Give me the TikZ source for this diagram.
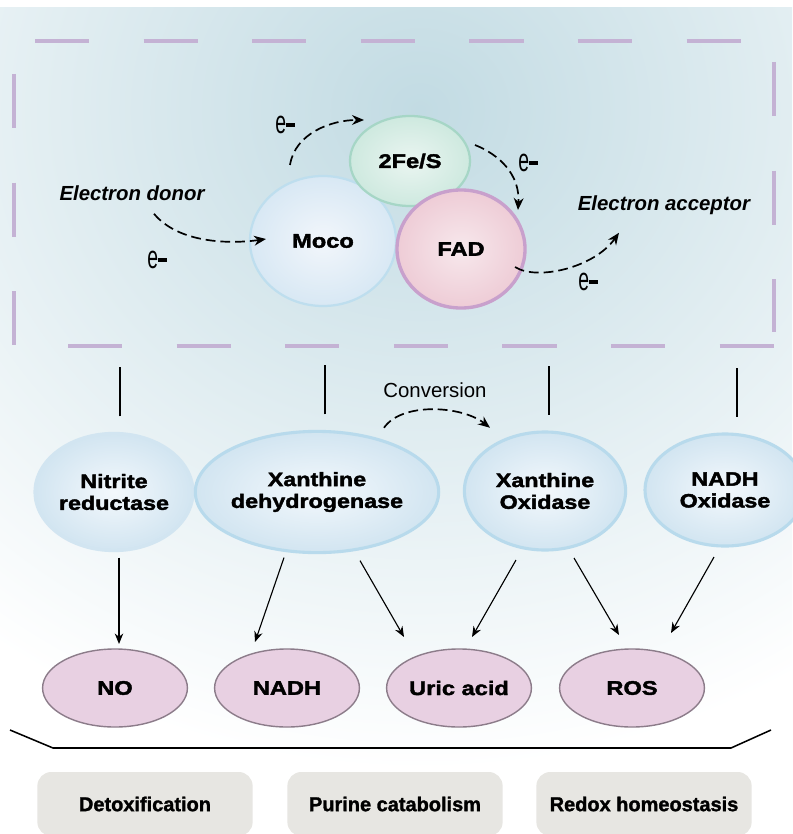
\documentclass[tikz,border=0pt]{standalone}
\usepackage{fontspec}
\setmainfont{Liberation Sans}
\newfontfamily\narrowfont{Liberation Sans}[FakeStretch=0.6]
\newfontfamily\heavyfont{Liberation Sans Bold}[FakeStretch=1.2, FakeBold=2]
\newfontfamily\blackfont{Liberation Sans Bold}[FakeBold=1.5]
\usetikzlibrary{arrows.meta,calc,shapes.geometric}

\definecolor{bgblue}{RGB}{194,219,227}
\definecolor{framelilac}{RGB}{196,178,212}
\definecolor{mocoin}{RGB}{242,246,251}
\definecolor{mocoout}{RGB}{216,232,244}
\definecolor{mocoline}{RGB}{190,222,238}
\definecolor{fesin}{RGB}{234,245,241}
\definecolor{fesout}{RGB}{206,233,223}
\definecolor{fesline}{RGB}{166,214,198}
\definecolor{fadin}{RGB}{247,232,236}
\definecolor{fadout}{RGB}{238,204,214}
\definecolor{fadline}{RGB}{200,160,204}
\definecolor{enzin}{RGB}{243,248,252}
\definecolor{enzout}{RGB}{210,229,241}
\definecolor{enzline}{RGB}{184,218,236}
\definecolor{prodfill}{RGB}{232,208,226}
\definecolor{prodline}{RGB}{140,124,138}
\definecolor{rolefill}{RGB}{231,230,226}

\newcommand\elec{{\narrowfont\fontsize{23}{23}\selectfont e}\rule[4.5pt]{6pt}{3pt}}

\tikzset{
  cofactor/.style={ellipse, draw, line width=1.6pt, inner sep=0pt, outer sep=0pt,
    font=\heavyfont\fontsize{14}{16}\selectfont},
  enzyme/.style={ellipse, draw=enzline, line width=2.2pt, inner color=enzin, outer color=enzout,
    inner sep=0pt, outer sep=0pt, align=center, font=\heavyfont\fontsize{13.8}{15.5}\selectfont},
  product/.style={ellipse, draw=prodline, fill=prodfill, line width=1pt, minimum width=3.62cm,
    minimum height=1.95cm, inner sep=0pt, outer sep=0pt, font=\heavyfont\fontsize{14}{16}\selectfont},
  role/.style={rectangle, rounded corners=0.35cm, fill=rolefill, minimum width=5.38cm,
    minimum height=1.6cm, font=\blackfont\fontsize{14.2}{17}\selectfont},
  flow/.style={-{Stealth[length=8.5pt,width=7pt]}, line width=1.2pt, dash pattern=on 7pt off 3.5pt},
  yields/.style={-{Stealth[length=7.5pt,width=6pt]}, line width=0.8pt},
  link/.style={line width=0.8pt},
  side/.style={inner sep=0pt, font=\bfseries\itshape\fontsize{14.5}{17}\selectfont},
  elab/.style={inner sep=0pt},
  frameline/.style={framelilac, line width=2.4pt, dash pattern=on 1.357cm off 1.357cm}
}

\begin{document}
\begin{tikzpicture}[x=0.025cm, y=-0.025cm]
	\useasboundingbox (0,0) rectangle (792,834);
	
	% background
	\fill[white] (0,0) rectangle (792,834);
	\begin{scope}
		\clip (0,8) rectangle (792,834);
		\shade[inner color=bgblue, outer color=white] (420,110) ellipse (720 and 660);
	\end{scope}
	
	% dashed frame
	\draw[frameline] (35,41) -- (741,41);
	\draw[frameline] (14,74) -- (14,346);
	\draw[frameline] (68,346) -- (774,346);
	\draw[frameline] (774,62) -- (774,332);
	
	% cofactors
	\node[cofactor, minimum width=3.65cm, minimum height=3.25cm, draw=mocoline,
		inner color=mocoin, outer color=mocoout] (moco) at (323,241) {Moco};
	\node[cofactor, minimum width=3.0cm, minimum height=2.25cm, draw=fesline,
		inner color=fesin, outer color=fesout] (fes) at (410,161) {2Fe/S};
	\node[cofactor, minimum width=3.2cm, minimum height=2.95cm, draw=fadline, line width=2.4pt,
		inner color=fadin, outer color=fadout] (fad) at (461,249) {FAD};
	
	\node[side] (donor) at (132,193) {Electron donor};
	\node[side] (acceptor) at (664,205) {Electron acceptor};
	
	\node[elab] (e1) at (157,260) {\elec};
	\node[elab] (e2) at (285,125) {\elec};
	\node[elab] (e3) at (528,163) {\elec};
	\node[elab] (e4) at (588,282) {\elec};
	
	\draw[flow] ($(donor.south)+(22,13)$) .. controls +(25,30) and +(-35,5) .. ($(moco.west)+(16,-2)$);
	\draw[flow] ($(moco.north)+(-33,-11)$) .. controls +(5,-32) and +(-32,0) .. ($(fes.north)+(-46,4)$);
	\draw[flow] ($(fes.east)+(5,-16)$) .. controls +(25,10) and +(2,-35) .. ($(fad.north)+(57,20)$);
	\draw[flow] ($(fad.east)+(-10,18)$) .. controls +(22,14) and +(-25,35) .. ($(acceptor.south)+(-45,18)$);
	
	% enzymes
	\node[enzyme, minimum width=3.95cm, minimum height=2.93cm, draw=enzout] (nitrite) at (114,492) {Nitrite\\reductase};
	\node[enzyme, minimum width=5.35cm, minimum height=3.03cm] (xdh) at (317,492) {Xanthine\\dehydrogenase};
	\node[enzyme, minimum width=4.03cm, minimum height=2.95cm] (xo) at (545,491) {Xanthine\\Oxidase};
	\node[enzyme, minimum width=4.0cm, minimum height=2.8cm] (nox) at (725,490) {NADH\\Oxidase};
	
	\draw[link] ($(nitrite.north)+(6,-17)$) -- ++(0,-49);
	\draw[link] ($(xdh.north)+(8,-17)$) -- ++(0,-49);
	\draw[link] ($(xo.north)+(4,-17)$) -- ++(0,-49);
	\draw[link] ($(nox.north)+(12,-17)$) -- ++(0,-49);
	
	\node[inner sep=0pt, font=\fontsize{14.5}{17}\selectfont] (conv) at (435,390) {Conversion};
	\draw[flow] ($(conv.south)+(-51,30)$) .. controls +(18,-26) and +(-28,-22) .. ($(conv.south)+(55,30)$);
	
	% products
	\node[product] (no) at (115,688) {NO};
	\node[product] (nadh) at (287,688) {NADH};
	\node[product] (uric) at (459,688) {Uric acid};
	\node[product] (ros) at (632,688) {ROS};
	
	\draw[yields] ($(nitrite.south)+(5,7)$) -- ($(no.north)+(4,-5)$);
	\draw[yields] ($(xdh.south)+(-33,5)$) -- ($(nadh.north)+(-32,-7)$);
	\draw[yields] ($(xdh.south)+(43,8)$) -- ($(uric.north)+(-55,-12)$);
	\draw[yields] ($(xo.south)+(-29,10)$) -- ($(uric.north)+(13,-12)$);
	\draw[yields] ($(xo.south)+(29,8)$) -- ($(ros.north)+(-13,-14)$);
	\draw[yields] ($(nox.south)+(-11,11)$) -- ($(ros.north)+(39,-16)$);
	
	% bracket and roles
	\draw[line width=1.1pt] (10,730) -- (53,748) -- (731,748) -- (771,730);
	
	\node[role] (detox) at (145,804) {Detoxification};
	\node[role] (purine) at (395,804) {Purine catabolism};
	\node[role] (redox) at (644,804) {Redox homeostasis};
	
\end{tikzpicture}
\end{document}
